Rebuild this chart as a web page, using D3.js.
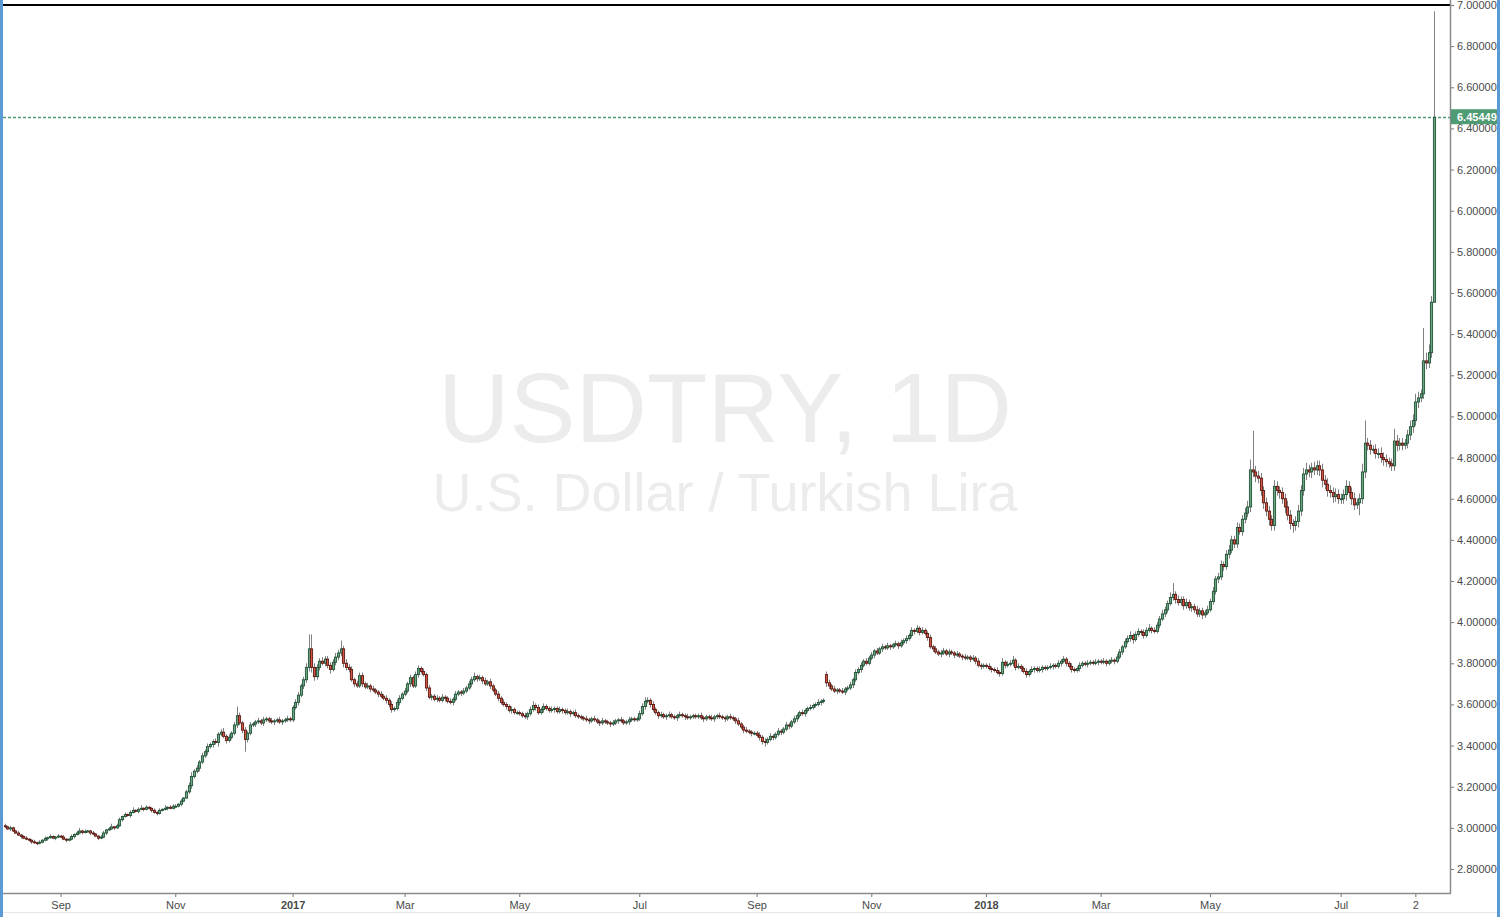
<!DOCTYPE html>
<html><head><meta charset="utf-8">
<script src="https://cdn.jsdelivr.net/npm/d3@7"></script>
<style>html,body{margin:0;padding:0;background:#fff;overflow:hidden}</style>
</head><body><svg id="chart" width="1500" height="917"></svg>
<script>
// ---------- DATA ----------
const symbolTitle = "USDTRY, 1D";
const symbolName = "U.S. Dollar / Turkish Lira";
const firstDate = "2016-08-03", lastDate = "2018-08-10";
const missingDays = ["2018-03-30", "2018-04-02"];
const extraSessions = ["2018-05-20","2018-05-27","2018-06-03","2018-06-10","2018-06-17",
  "2018-07-01","2018-07-08","2018-07-15","2018-07-22","2018-07-29","2018-08-05"];
const firstOpen = 3.010;
const gapOpens = [["2017-10-09", 3.745]];
const closes = [
 // Aug 2016
 3.005,2.995,3.000,2.985,2.975,2.965,2.958,2.950,2.945,2.940,2.932,2.928,2.925,2.930,2.940,2.948,2.952,2.958,2.950,2.955,2.960,
 // Sep 2016
 2.955,2.945,2.940,2.945,2.958,2.968,2.975,2.985,2.978,2.982,2.985,2.975,2.970,2.960,2.950,2.955,2.975,2.990,2.995,3.005,3.000,3.010,
 // Oct 2016
 3.040,3.055,3.065,3.060,3.075,3.085,3.080,3.090,3.095,3.090,3.100,3.095,3.085,3.075,3.070,3.085,3.090,3.095,3.100,3.095,3.105,
 // Nov 2016
 3.105,3.115,3.130,3.145,3.175,3.205,3.250,3.275,3.290,3.320,3.350,3.370,3.395,3.405,3.420,3.415,3.455,3.465,3.445,3.425,3.440,3.460,
 // Dec 2016
 3.500,3.545,3.510,3.475,3.430,3.460,3.500,3.505,3.515,3.520,3.510,3.525,3.530,3.520,3.515,3.520,3.525,3.515,3.520,3.525,3.530,3.525,
 // Jan 2017
 3.585,3.610,3.645,3.690,3.720,3.780,3.870,3.780,3.735,3.780,3.810,3.800,3.820,3.790,3.770,3.805,3.830,3.850,3.870,3.800,3.780,3.770,
 // Feb 2017
 3.720,3.700,3.690,3.740,3.700,3.685,3.690,3.675,3.670,3.660,3.650,3.640,3.630,3.620,3.600,3.575,3.580,3.610,3.630,3.650,
 // Mar 2017
 3.665,3.700,3.730,3.690,3.745,3.775,3.760,3.745,3.680,3.635,3.640,3.625,3.630,3.620,3.635,3.630,3.615,3.610,3.625,3.650,3.660,3.655,3.665,
 // Apr 2017
 3.680,3.700,3.720,3.735,3.725,3.730,3.715,3.700,3.710,3.690,3.670,3.650,3.630,3.610,3.600,3.590,3.570,3.575,3.560,3.560,
 // May 2017
 3.555,3.545,3.540,3.555,3.575,3.595,3.585,3.560,3.575,3.590,3.580,3.570,3.575,3.580,3.565,3.575,3.570,3.560,3.565,3.555,3.560,3.545,3.540,
 // Jun 2017
 3.535,3.530,3.525,3.520,3.530,3.525,3.515,3.510,3.520,3.515,3.510,3.505,3.510,3.520,3.525,3.520,3.510,3.515,3.525,3.530,3.525,3.530,
 // Jul 2017
 3.555,3.590,3.615,3.620,3.600,3.575,3.560,3.545,3.550,3.540,3.545,3.550,3.540,3.535,3.545,3.550,3.545,3.540,3.535,3.540,3.545,
 // Aug 2017
 3.540,3.545,3.535,3.530,3.540,3.535,3.530,3.540,3.545,3.540,3.535,3.530,3.540,3.535,3.530,3.520,3.505,3.490,3.475,3.470,3.465,3.460,3.460,
 // Sep 2017
 3.450,3.440,3.420,3.415,3.430,3.445,3.440,3.455,3.470,3.465,3.480,3.500,3.495,3.515,3.530,3.545,3.560,3.555,3.570,3.580,3.585,
 // Oct 2017
 3.595,3.600,3.610,3.615,3.620,3.705,3.690,3.675,3.665,3.670,3.665,3.660,3.675,3.680,3.695,3.720,3.755,3.770,3.790,3.810,3.800,3.825,
 // Nov 2017
 3.840,3.860,3.850,3.870,3.880,3.875,3.885,3.880,3.890,3.895,3.885,3.900,3.910,3.920,3.935,3.960,3.955,3.970,3.950,3.960,3.945,3.925,
 // Dec 2017
 3.880,3.870,3.855,3.845,3.850,3.860,3.845,3.855,3.850,3.840,3.845,3.835,3.830,3.825,3.830,3.820,3.825,3.810,3.790,3.785,3.790,
 // Jan 2018
 3.785,3.775,3.770,3.765,3.755,3.750,3.805,3.790,3.795,3.800,3.815,3.780,3.785,3.775,3.760,3.745,3.760,3.770,3.775,3.765,3.770,3.780,3.775,
 // Feb 2018
 3.780,3.785,3.790,3.785,3.800,3.810,3.820,3.800,3.785,3.770,3.765,3.775,3.790,3.800,3.795,3.800,3.805,3.800,3.805,3.810,
 // Mar 2018
 3.805,3.810,3.800,3.810,3.815,3.810,3.830,3.855,3.880,3.905,3.920,3.935,3.915,3.940,3.955,3.950,3.935,3.960,3.970,3.960,3.955,
 // Apr 2018
 3.985,4.015,4.040,4.060,4.090,4.120,4.135,4.110,4.095,4.110,4.080,4.095,4.070,4.075,4.060,4.040,4.055,4.035,4.045,4.060,
 // May 2018
 4.100,4.150,4.210,4.220,4.280,4.270,4.330,4.350,4.400,4.380,4.460,4.440,4.500,4.530,4.560,4.740,4.730,4.710,4.700,4.640,4.580,4.540,4.500,4.470,4.660,
 // Jun 2018
 4.640,4.630,4.600,4.560,4.520,4.480,4.470,4.490,4.540,4.640,4.720,4.740,4.730,4.750,4.740,4.760,4.740,4.690,4.670,4.640,4.630,4.610,4.620,4.600,
 // Jul 2018
 4.600,4.620,4.660,4.630,4.600,4.570,4.580,4.600,4.730,4.870,4.860,4.840,4.840,4.820,4.820,4.800,4.790,4.780,4.770,4.760,4.880,4.860,4.870,4.860,4.870,4.910,4.950,
 // Aug 2018
 4.980,5.070,5.090,5.110,5.270,5.260,5.310,5.555,6.45449
];
// wick lengths above / below the body, in units of wickUnit
const wickUnit = 0.005;
const wickUp = [
 2,1,2,1,1,2,1,1,2,1,1,2,1,2,1,2,1,2,1,1,2,
 1,2,1,1,2,1,2,3,1,2,1,1,2,1,1,2,2,1,2,3,1,2,
 2,1,2,1,2,3,1,2,3,1,2,1,1,2,1,2,1,3,1,2,2,
 2,1,2,1,2,3,4,2,3,2,3,2,3,2,2,3,2,3,4,2,3,2,
 3,9,3,2,3,2,3,2,2,3,2,3,2,2,3,2,2,3,2,2,3,2,
 2,3,3,2,3,4,14,14,4,3,3,4,3,3,3,3,4,3,8,3,4,3,
 3,2,3,3,3,2,3,2,3,2,2,3,2,3,2,3,2,3,3,2,
 3,2,3,2,3,3,2,3,2,3,2,2,3,2,3,2,2,3,2,3,2,2,3,
 2,3,3,4,2,3,2,3,2,3,2,2,3,2,3,2,2,3,2,2,
 2,2,3,2,3,4,2,3,2,3,2,2,3,2,2,3,2,2,3,2,2,3,2,
 2,2,3,2,2,3,2,2,3,2,2,2,3,2,2,3,2,2,3,2,2,2,
 3,3,4,3,2,3,2,2,3,2,2,3,2,2,2,3,2,2,3,2,2,
 2,2,3,2,2,2,3,2,2,3,2,2,2,3,2,2,3,2,2,3,2,2,2,
 2,3,2,3,2,3,2,2,3,2,2,3,2,2,3,2,2,3,2,2,3,
 2,2,3,2,2,3,3,2,3,2,2,3,2,2,3,2,3,2,3,2,3,2,
 3,2,3,2,3,2,3,2,2,3,2,3,2,3,2,3,2,3,2,3,2,2,
 3,2,3,2,3,3,2,3,2,2,3,2,2,3,2,2,3,2,3,2,2,
 2,3,2,2,3,2,4,2,3,3,4,2,3,2,2,3,2,3,2,2,3,2,2,
 2,3,2,2,3,2,3,2,2,3,2,2,3,2,2,3,2,2,3,2,
 2,3,2,2,3,2,3,3,2,3,3,4,2,3,3,2,3,3,4,2,3,
 3,3,4,3,3,5,11,3,4,3,3,4,3,3,3,4,3,3,3,4,
 3,4,3,4,4,3,4,5,4,4,5,4,4,5,6,10,38,6,5,5,4,5,5,4,6,
 5,4,5,5,6,5,4,5,6,5,6,7,5,5,6,5,5,6,5,6,5,5,6,5,
 5,5,6,5,5,6,4,5,8,22,5,5,4,5,5,6,5,5,4,5,12,6,5,5,4,5,6,
 6,8,6,4,32,8,8,6,103
];
const wickDn = [
 1,1,2,1,1,1,2,1,1,1,2,1,2,1,1,1,2,1,1,2,1,
 1,1,2,1,1,2,1,1,2,1,1,2,1,1,2,1,1,2,1,1,2,1,
 1,2,1,1,2,1,1,2,1,2,1,1,2,1,2,1,1,1,2,1,1,
 1,1,2,1,1,2,3,2,2,3,2,2,3,2,3,2,4,2,2,3,2,2,
 2,3,2,3,12,3,2,2,3,2,2,3,2,2,2,3,2,2,3,2,2,2,
 2,2,3,2,3,3,4,5,4,3,3,2,3,3,4,2,3,3,3,4,3,3,
 2,3,2,2,3,2,2,3,2,2,3,2,2,3,3,3,2,2,3,2,
 2,2,3,2,2,3,2,2,3,2,3,2,3,2,2,3,2,2,3,2,2,3,2,
 2,2,3,2,3,2,3,2,2,3,2,2,3,2,2,3,2,3,2,2,
 2,2,2,3,2,2,3,2,2,3,2,2,2,3,2,2,3,2,2,3,2,2,2,
 2,2,2,3,2,2,2,3,2,2,2,3,2,2,3,2,2,2,3,2,2,2,
 2,2,3,2,3,2,2,3,2,2,3,2,2,2,3,2,2,3,2,2,2,
 2,2,2,3,2,2,2,3,2,2,2,3,2,2,2,3,2,2,3,2,2,3,2,
 2,3,3,4,2,2,3,2,2,3,2,2,3,2,2,3,2,2,3,2,2,
 2,2,2,3,2,4,3,2,2,3,2,2,3,2,2,3,2,2,3,2,2,2,
 2,3,2,2,3,2,2,3,2,2,3,2,2,3,2,2,3,2,3,2,2,3,
 2,3,2,2,3,2,2,3,2,3,2,2,3,2,2,3,2,3,2,3,2,
 2,2,3,2,2,3,2,3,2,2,3,3,2,3,2,3,2,2,3,2,2,3,2,
 2,2,3,2,2,3,2,3,2,3,2,2,3,2,2,3,2,2,2,3,
 2,2,3,2,2,3,2,2,3,2,2,3,4,2,2,3,3,2,2,3,2,
 2,3,2,3,3,2,3,4,3,3,4,3,3,4,3,3,3,4,3,2,
 2,3,3,4,3,4,3,4,3,4,4,3,4,4,4,5,5,6,5,5,6,5,6,5,5,
 5,6,5,6,5,6,7,5,6,5,5,6,5,6,5,5,6,7,5,6,5,6,5,5,
 5,5,6,5,6,5,4,12,5,6,5,5,4,5,5,5,6,5,4,5,5,6,5,5,4,5,5,
 6,5,6,4,5,6,5,5,0
];
const priceTicks = [2.8,3.0,3.2,3.4,3.6,3.8,4.0,4.2,4.4,4.6,4.8,5.0,5.2,5.4,5.6,5.8,6.0,6.2,6.4,6.6,6.8,7.0];
const timeTicks = [["2016-09-01","Sep"],["2016-11-01","Nov"],["2017-01-02","2017"],["2017-03-01","Mar"],
  ["2017-05-01","May"],["2017-07-03","Jul"],["2017-09-01","Sep"],["2017-11-01","Nov"],["2018-01-01","2018"],
  ["2018-03-01","Mar"],["2018-05-01","May"],["2018-07-01","Jul"],["2018-08-02","2"]];
const lastPrice = 6.45449;
const topLevel = 7.0;

// ---------- BUILD ----------
const parse = d3.utcParse("%Y-%m-%d"), fmt = d3.utcFormat("%Y-%m-%d");
const dates = d3.utcDay.range(parse(firstDate), d3.utcDay.offset(parse(lastDate), 1)).map(fmt)
  .filter(s => { const wd = parse(s).getUTCDay();
    return (wd > 0 && wd < 6 && !missingDays.includes(s)) || extraSessions.includes(s); });
const N = Math.min(dates.length, closes.length);
const bars = d3.range(N).map(i => {
  const g = gapOpens.find(e => e[0] === dates[i]);
  const open = g ? g[1] : (i === 0 ? firstOpen : closes[i - 1]);
  const close = closes[i];
  return { i, date: dates[i], open, close,
    high: Math.max(open, close) + (wickUp[i] || 0) * wickUnit,
    low: Math.min(open, close) - (wickDn[i] || 0) * wickUnit };
});

const W = 1500, H = 917;
const plot = { left: 3, right: 1450, top: 0, bottom: 893 };
const x = d3.scaleLinear().domain([-0.6, N - 1 + 6]).range([plot.left, plot.right]);
const y = d3.scaleLinear().domain([2.8, 7.0]).range([869, 5]);

const svg = d3.select("#chart");
const FONT = "'Liberation Sans', Arial, sans-serif";

svg.append("rect").attr("width", W).attr("height", H).attr("fill", "#fff");

// watermark
const wm = svg.append("g").attr("font-family", FONT).attr("text-anchor", "middle").attr("fill", "#ececec");
wm.append("text").attr("x", 725).attr("y", 442).attr("font-size", 99).text(symbolTitle);
wm.append("text").attr("x", 725).attr("y", 511).attr("font-size", 54).text(symbolName);

svg.append("clipPath").attr("id", "clip").append("rect")
  .attr("x", plot.left).attr("y", plot.top).attr("width", plot.right - plot.left).attr("height", plot.bottom - plot.top);
const g = svg.append("g").attr("clip-path", "url(#clip)");

// top level line
g.append("line").attr("x1", plot.left).attr("x2", plot.right)
  .attr("y1", y(topLevel)).attr("y2", y(topLevel)).attr("stroke", "#000").attr("stroke-width", 2);

// last price dashed line
const lastColor = "#4f9b74";
g.append("line").attr("x1", plot.left).attr("x2", plot.right)
  .attr("y1", Math.round(y(lastPrice)) + 0.5).attr("y2", Math.round(y(lastPrice)) + 0.5)
  .attr("stroke", lastColor).attr("stroke-width", 1.3).attr("stroke-dasharray", "3,2");

// wicks
g.append("g").selectAll("line").data(bars).join("line")
  .attr("x1", d => Math.round(x(d.i)) + 0.5).attr("x2", d => Math.round(x(d.i)) + 0.5)
  .attr("y1", d => y(d.high)).attr("y2", d => y(d.low))
  .attr("stroke", "#808083").attr("stroke-width", 1);

// bodies
const upFill = "#6ba583", dnFill = "#d75442", upLine = "#225437", dnLine = "#5b1a13";
g.append("g").selectAll("rect").data(bars).join("rect")
  .attr("x", d => Math.round(x(d.i)) - 0.6)
  .attr("width", 2.2)
  .attr("y", d => y(Math.max(d.open, d.close)))
  .attr("height", d => Math.max(1, Math.abs(y(d.open) - y(d.close))))
  .attr("fill", d => d.close >= d.open ? upFill : dnFill)
  .attr("stroke", d => d.close >= d.open ? upLine : dnLine)
  .attr("stroke-width", 0.9);

// right axis
const yAxis = svg.append("g").attr("transform", `translate(${plot.right},0)`)
  .call(d3.axisRight(y).tickValues(priceTicks).tickFormat(d3.format(".5f")).tickSize(4).tickPadding(3));
yAxis.select(".domain").remove();
yAxis.selectAll("text").attr("font-family", FONT).attr("font-size", 11).attr("fill", "#4a4a4a");
yAxis.selectAll("line").attr("stroke", "#777");
svg.append("line").attr("x1", plot.right + 0.5).attr("x2", plot.right + 0.5)
  .attr("y1", 0).attr("y2", plot.bottom).attr("stroke", "#8a8a8a").attr("stroke-width", 1.5);

// bottom axis
const tickIdx = timeTicks.map(t => ({ i: dates.indexOf(t[0]), label: t[1] })).filter(t => t.i >= 0);
const xAxis = svg.append("g").attr("transform", `translate(0,${plot.bottom})`)
  .call(d3.axisBottom(x).tickValues(tickIdx.map(t => t.i))
    .tickFormat((d, k) => tickIdx[k].label).tickSize(4).tickPadding(4));
xAxis.select(".domain").remove();
xAxis.selectAll("text").attr("font-family", FONT).attr("font-size", 11).attr("fill", "#4a4a4a")
  .attr("font-weight", (d, k) => /^\d{4}$/.test(tickIdx[k].label) ? "bold" : "normal");
xAxis.selectAll("line").attr("stroke", "#777");
svg.append("line").attr("x1", plot.left).attr("x2", plot.right + 1)
  .attr("y1", plot.bottom + 0.5).attr("y2", plot.bottom + 0.5).attr("stroke", "#8a8a8a").attr("stroke-width", 1.5);

// last price label
const ly = y(lastPrice);
svg.append("rect").attr("x", plot.right + 1).attr("y", ly - 8).attr("width", 47).attr("height", 15).attr("fill", lastColor);
svg.append("text").attr("x", plot.right + 7).attr("y", ly + 4).attr("font-family", FONT)
  .attr("font-size", 11).attr("font-weight", "bold").attr("fill", "#fff").text(lastPrice.toFixed(5));

// frame
svg.append("line").attr("x1", 3).attr("x2", 1497).attr("y1", 912.5).attr("y2", 912.5).attr("stroke", "#e6e6e6");
svg.append("rect").attr("x", 0).attr("y", 0).attr("width", 3).attr("height", H).attr("fill", "#5b9bd5");
svg.append("rect").attr("x", 1497).attr("y", 0).attr("width", 3).attr("height", H).attr("fill", "#5b9bd5");
</script></body></html>
